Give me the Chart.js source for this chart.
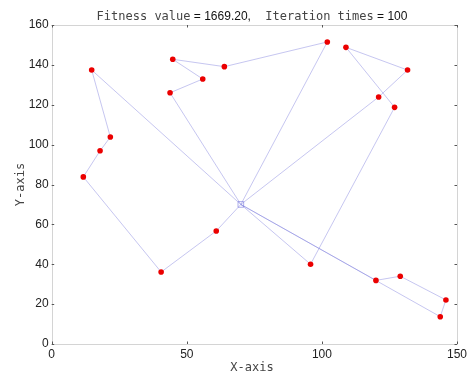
<!DOCTYPE html>
<html><head><meta charset="utf-8">
<script src="https://cdn.jsdelivr.net/npm/chart.js@4/dist/chart.umd.min.js"></script>
<style>html,body{margin:0;padding:0;background:#fff}#wrap{width:471px;height:376px;position:relative}</style>
</head><body><div id="wrap"><canvas id="c" width="471" height="376"></canvas></div>
<script>
// ---- data ----
const titleParts = ['Fitness value', ' = 1669.20,', '  Iteration times', ' = 100'];
const xLabel = 'X-axis';
const yLabel = 'Y-axis';
const depot = [70, 70];
const custX = [14.8, 21.7, 17.9, 11.7, 40.5, 60.9, 43.8, 55.9, 44.8, 63.9, 102.0, 121.0, 131.7, 108.9, 126.9, 95.8, 120.0, 129.0, 145.9, 143.8];
const custY = [137.4, 103.8, 96.9, 83.8, 36.1, 56.7, 126.0, 132.9, 142.8, 139.1, 151.5, 123.9, 137.4, 148.8, 118.7, 40.0, 31.9, 34.0, 22.1, 13.7];
const route1 = [0, 1, 2, 3, 4, 5];
const route2 = [6, 7, 8, 9, 10];
const route3 = [11, 12, 13, 14, 15];
const route4 = [16, 17, 18, 19];
const routes = [route1, route2, route3, route4];
const xTicks = [0, 50, 100, 150];
const yTicks = [0, 20, 40, 60, 80, 100, 120, 140, 160];

const MONO = '"DejaVu Sans Mono", monospace';
const SANS = '"Liberation Sans", Arial, sans-serif';
const lineColor = 'rgba(120,120,220,0.42)';

const dp = {x: depot[0], y: depot[1]};
const datasets = routes.map(r => ({
  data: [dp].concat(r.map(i => ({x: custX[i], y: custY[i]}))).concat([dp]),
  showLine: true, borderColor: lineColor, borderWidth: 1, pointRadius: 0, fill: false, order: 3
}));
datasets.push({
  data: custX.map((x, i) => ({x, y: custY[i]})),
  pointRadius: 2.8, pointBackgroundColor: 'rgb(235,0,0)', pointBorderWidth: 0, showLine: false, order: 1
});
datasets.push({
  data: [dp], pointStyle: 'rect', pointRadius: 4, pointBorderColor: 'rgba(120,120,220,0.6)',
  pointBackgroundColor: 'rgba(0,0,0,0)', pointBorderWidth: 1, showLine: false, order: 2
});

const decor = {
  id: 'decor',
  afterDraw(chart) {
    const ctx = chart.ctx, a = chart.chartArea, xs = chart.scales.x, ys = chart.scales.y;
    ctx.save();
    ctx.strokeStyle = '#d4d4d4'; ctx.lineWidth = 1;
    ctx.strokeRect(Math.round(a.left) + 0.5, Math.round(a.top) + 0.5, Math.round(a.right - a.left), Math.round(a.bottom - a.top));
    ctx.strokeStyle = '#555';
    const tl = 2.5;
    xTicks.forEach(v => {
      const px = Math.round(xs.getPixelForValue(v)) + 0.5;
      ctx.beginPath();
      ctx.moveTo(px, a.bottom); ctx.lineTo(px, a.bottom - tl);
      ctx.moveTo(px, a.top); ctx.lineTo(px, a.top + tl);
      ctx.stroke();
    });
    yTicks.forEach(v => {
      const py = Math.round(ys.getPixelForValue(v)) + 0.5;
      ctx.beginPath();
      ctx.moveTo(a.left, py); ctx.lineTo(a.left + tl, py);
      ctx.moveTo(a.right, py); ctx.lineTo(a.right - tl, py);
      ctx.stroke();
    });
    // title
    const fonts = ['12px ' + MONO, '12px ' + SANS, '12px ' + MONO, '12px ' + SANS];
    const cols = ['#444', '#111', '#444', '#111'];
    let total = 0;
    const ws = titleParts.map((t, i) => { ctx.font = fonts[i]; const w = ctx.measureText(t).width; total += w; return w; });
    let x = 252 - total / 2;
    ctx.textBaseline = 'middle'; ctx.textAlign = 'left';
    titleParts.forEach((t, i) => { ctx.font = fonts[i]; ctx.fillStyle = cols[i]; ctx.fillText(t, x, 16.5); x += ws[i]; });
    // axis labels
    ctx.font = '12px ' + MONO; ctx.fillStyle = '#444'; ctx.textAlign = 'center';
    ctx.fillText(xLabel, 252, 368);
    ctx.translate(20.5, 184.5); ctx.rotate(-Math.PI / 2);
    ctx.fillText(yLabel, 0, 0);
    ctx.restore();
  }
};

new Chart(document.getElementById('c'), {
  type: 'scatter',
  data: {datasets},
  options: {
    responsive: false, animation: false, devicePixelRatio: 1,
    layout: {padding: {top: 25, right: 14, bottom: 0, left: 0}},
    plugins: {legend: {display: false}, title: {display: false}, tooltip: {enabled: false}},
    scales: {
      x: {
        type: 'linear', min: 0, max: 150,
        afterBuildTicks: s => { s.ticks = xTicks.map(v => ({value: v})); },
        afterFit: s => { s.height = 32; },
        grid: {display: false, drawTicks: false}, border: {display: false},
        ticks: {font: {family: SANS, size: 12}, color: '#222', padding: 3, maxRotation: 0}
      },
      y: {
        type: 'linear', min: 0, max: 160,
        afterBuildTicks: s => { s.ticks = yTicks.map(v => ({value: v})); },
        afterFit: s => { s.width = 51.7; },
        grid: {display: false, drawTicks: false}, border: {display: false},
        ticks: {font: {family: SANS, size: 12}, color: '#222', padding: 3}
      }
    }
  },
  plugins: [decor]
});
</script></body></html>
